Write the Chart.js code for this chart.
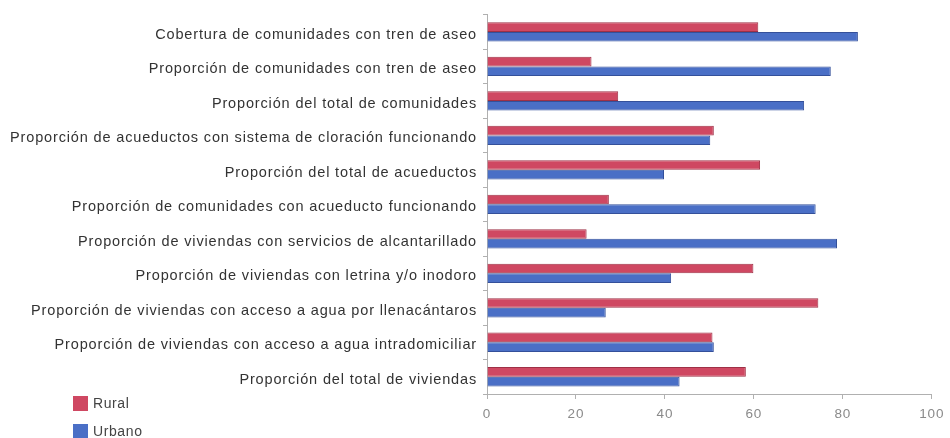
<!DOCTYPE html>
<html>
<head>
<meta charset="utf-8">
<script src="https://cdn.jsdelivr.net/npm/chart.js@4/dist/chart.umd.min.js"></script>
<style>
    html, body { margin: 0; padding: 0; background: #fff; }
    #wrap { position: relative; width: 950px; height: 438px; }
    #legend { position: absolute; left: 73px; top: 389px; font: 14px "Liberation Sans", Arial, sans-serif; color: #444; letter-spacing: 0.6px; }
    #legend div { display: flex; align-items: center; height: 28px; }
    #legend span.box { width: 15px; height: 15px; margin-right: 5px; display: inline-block; }
</style>
</head>
<body>
<div id="wrap">
    <canvas id="chart" width="950" height="438"></canvas>
    <div id="legend"></div>
</div>
<script>
// Categories (top to bottom)
const categories = [
    'Cobertura de comunidades con tren de aseo',
    'Proporción de comunidades con tren de aseo',
    'Proporción del total de comunidades',
    'Proporción de acueductos con sistema de cloración funcionando',
    'Proporción del total de acueductos',
    'Proporción de comunidades con acueducto funcionando',
    'Proporción de viviendas con servicios de alcantarillado',
    'Proporción de viviendas con letrina y/o inodoro',
    'Proporción de viviendas con acceso a agua por llenacántaros',
    'Proporción de viviendas con acceso a agua intradomiciliar',
    'Proporción del total de viviendas'
];

// Series values (%)
const rural = [61, 23.5, 29.5, 51, 61.4, 27.4, 22.4, 59.9, 74.5, 50.7, 58.2];
const urbano = [83.4, 77.3, 71.3, 50.2, 39.8, 73.9, 78.7, 41.4, 26.7, 51, 43.3];

const seriesNames = ['Rural', 'Urbano'];
const xTicks = [0, 20, 40, 60, 80, 100];

const colors = {
    rural: '#cf4862',
    ruralBorder: '#9e3046',
    urbano: '#4a6fc6',
    urbanoBorder: '#34509a'
};

// wider letter spacing like the original labels
const spacingPlugin = {
    id: 'spacing',
    beforeDraw(chart) {
        chart.ctx.letterSpacing = '0.85px';
    }
};

const chart = new Chart(document.getElementById('chart'), {
    type: 'bar',
    data: {
        labels: categories,
        datasets: [
            {
                label: seriesNames[0],
                data: rural,
                backgroundColor: colors.rural,
                borderColor: colors.ruralBorder,
                borderWidth: 1,
                barPercentage: 1,
                categoryPercentage: 0.56
            },
            {
                label: seriesNames[1],
                data: urbano,
                backgroundColor: colors.urbano,
                borderColor: colors.urbanoBorder,
                borderWidth: 1,
                barPercentage: 1,
                categoryPercentage: 0.56
            }
        ]
    },
    plugins: [spacingPlugin],
    options: {
        indexAxis: 'y',
        responsive: false,
        animation: false,
        layout: { padding: { top: 14, right: 16, left: 0, bottom: 0 } },
        plugins: {
            legend: { display: false },
            tooltip: { enabled: false }
        },
        scales: {
            x: {
                min: 0,
                max: 100,
                afterBuildTicks: scale => {
                    scale.ticks = xTicks.map(v => ({ value: v }));
                },
                afterFit: scale => { scale.height = 44; },
                grid: {
                    drawOnChartArea: false,
                    drawTicks: true,
                    tickLength: 5,
                    color: '#b0b0b0'
                },
                border: { color: '#b0b0b0' },
                ticks: {
                    color: '#8a8a8a',
                    font: { family: 'Liberation Sans', size: 13.5 },
                    padding: 7
                }
            },
            y: {
                afterFit: scale => { scale.width = 487; },
                grid: {
                    drawOnChartArea: false,
                    drawTicks: true,
                    tickLength: 4,
                    color: '#b0b0b0'
                },
                border: { color: '#b0b0b0' },
                ticks: {
                    color: '#333',
                    font: { family: 'Liberation Sans', size: 14.5 },
                    padding: 6,
                    labelOffset: 3,
                    autoSkip: false
                }
            }
        }
    }
});

// HTML legend (stacked vertically at bottom left)
const legendEl = document.getElementById('legend');
chart.data.datasets.forEach(ds => {
    const row = document.createElement('div');
    const box = document.createElement('span');
    box.className = 'box';
    box.style.background = ds.backgroundColor;
    row.appendChild(box);
    row.appendChild(document.createTextNode(ds.label));
    legendEl.appendChild(row);
});
</script>
</body>
</html>
